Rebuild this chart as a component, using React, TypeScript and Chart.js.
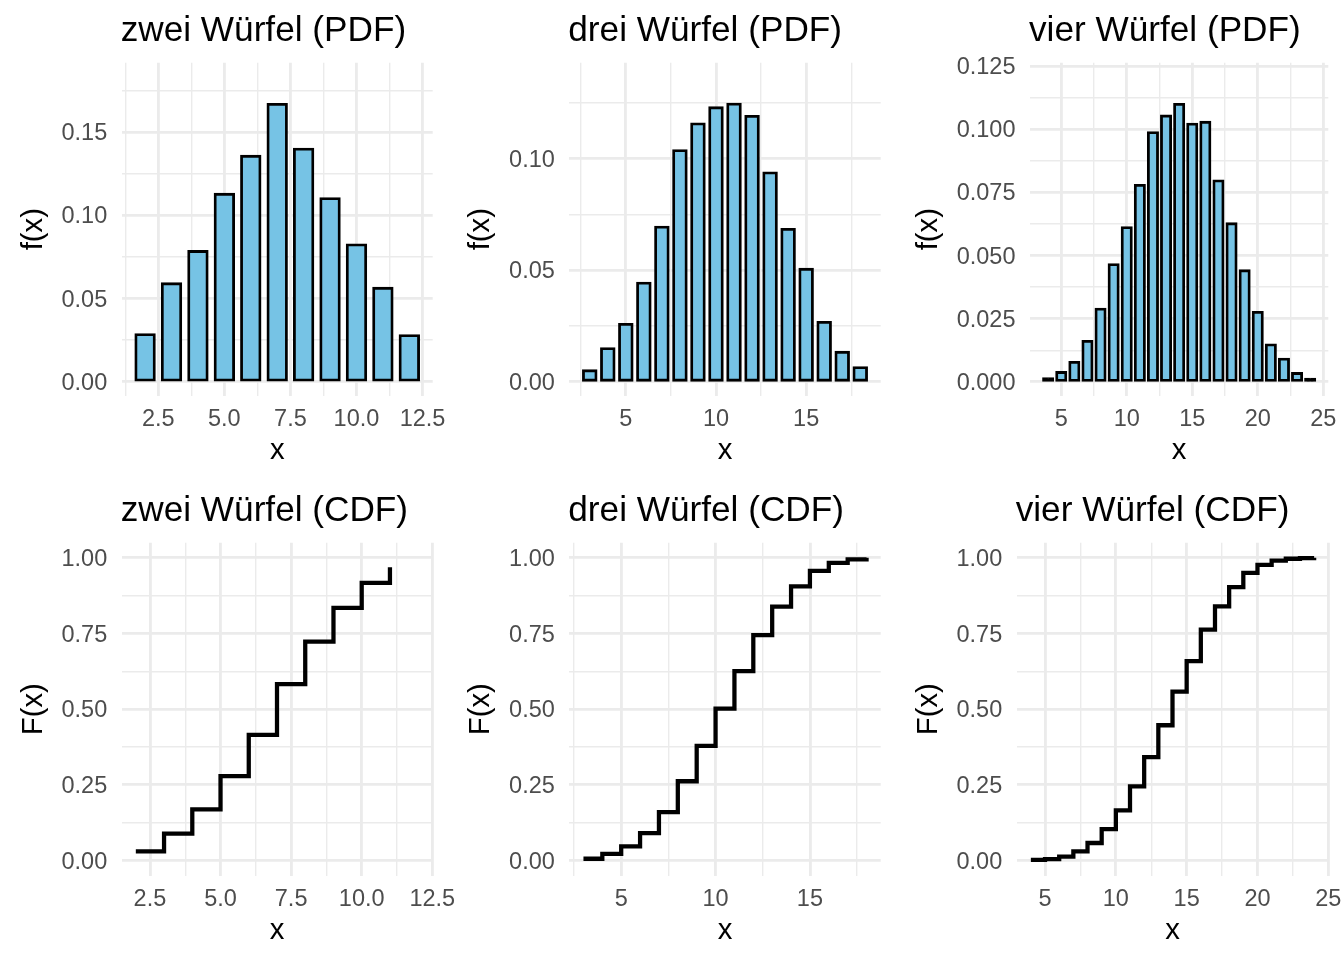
import React, { useEffect, useRef } from "react";
import { Chart, registerables } from "chart.js";

Chart.register(...registerables);

const FONT_FAMILY = '"Liberation Sans", Arial, Helvetica, sans-serif';
Chart.defaults.font.family = FONT_FAMILY;

// ---------------- data ----------------
const twoDiceX = [2, 3, 4, 5, 6, 7, 8, 9, 10, 11, 12];
const twoDicePdf = [0.0283, 0.0589, 0.0783, 0.1128, 0.1357, 0.1669, 0.14, 0.1102, 0.0823, 0.0562, 0.0277];

const threeDiceX = [3, 4, 5, 6, 7, 8, 9, 10, 11, 12, 13, 14, 15, 16, 17, 18];
const threeDicePdf = [0.0049, 0.0148, 0.0257, 0.0442, 0.0693, 0.1036, 0.1156, 0.1228, 0.1244, 0.1189, 0.0936, 0.0683, 0.0504, 0.0266, 0.0132, 0.0063];

const fourDiceX = [4, 5, 6, 7, 8, 9, 10, 11, 12, 13, 14, 15, 16, 17, 18, 19, 20, 21, 22, 23, 24];
const fourDicePdf = [0.0012, 0.0037, 0.0077, 0.016, 0.0288, 0.0464, 0.0611, 0.0778, 0.0987, 0.1053, 0.1099, 0.1021, 0.1028, 0.0796, 0.0626, 0.044, 0.0275, 0.0146, 0.009, 0.0033, 0.001];

const twoDiceCdfX = [2, 3, 4, 5, 6, 7, 8, 9, 10, 11];
const twoDiceCdf = [0.03, 0.089, 0.169, 0.279, 0.415, 0.583, 0.723, 0.835, 0.917, 0.969];

const threeDiceCdfX = [3, 4, 5, 6, 7, 8, 9, 10, 11, 12, 13, 14, 15, 16, 17, 18];
const threeDiceCdf = [0.006, 0.022, 0.047, 0.091, 0.16, 0.262, 0.379, 0.502, 0.626, 0.745, 0.839, 0.906, 0.957, 0.983, 0.995, 1.0];

const fourDiceCdfX = [4, 5, 6, 7, 8, 9, 10, 11, 12, 13, 14, 15, 16, 17, 18, 19, 20, 21, 22, 23, 24];
const fourDiceCdf = [0.002, 0.005, 0.013, 0.03, 0.058, 0.104, 0.166, 0.245, 0.342, 0.447, 0.558, 0.659, 0.763, 0.84, 0.903, 0.95, 0.977, 0.991, 0.997, 0.999, 1.0];

// ---------------- tick labels ----------------
const xTicksTwo = [2.5, 5, 7.5, 10, 12.5];
const xLabelsTwo = ["2.5", "5.0", "7.5", "10.0", "12.5"];
const xMinorTwo = [1.25, 3.75, 6.25, 8.75, 11.25];

const xTicksThree = [5, 10, 15];
const xLabelsThree = ["5", "10", "15"];
const xMinorThree = [2.5, 7.5, 12.5, 17.5];

const xTicksFour = [5, 10, 15, 20, 25];
const xLabelsFour = ["5", "10", "15", "20", "25"];
const xMinorFour = [2.5, 7.5, 12.5, 17.5, 22.5];

const yTicksPdfTwo = [0, 0.05, 0.1, 0.15];
const yLabelsPdfTwo = ["0.00", "0.05", "0.10", "0.15"];
const yMinorPdfTwo = [0.025, 0.075, 0.125, 0.175];

const yTicksPdfThree = [0, 0.05, 0.1];
const yLabelsPdfThree = ["0.00", "0.05", "0.10"];
const yMinorPdfThree = [0.025, 0.075, 0.125];

const yTicksPdfFour = [0, 0.025, 0.05, 0.075, 0.1, 0.125];
const yLabelsPdfFour = ["0.000", "0.025", "0.050", "0.075", "0.100", "0.125"];
const yMinorPdfFour = [0.0125, 0.0375, 0.0625, 0.0875, 0.1125];

const yTicksCdf = [0, 0.25, 0.5, 0.75, 1];
const yLabelsCdf = ["0.00", "0.25", "0.50", "0.75", "1.00"];
const yMinorCdf = [0.125, 0.375, 0.625, 0.875];

// ---------------- styling / layout ----------------
const CANVAS_W = 1400;
const CANVAS_H = 960;
const X_AXIS_H = 40;
const BAR_FILL = "#76C3E5";
const GRID_COLOR = "#EBEBEB";
const TICK_COLOR = "#4D4D4D";
const TICK_SIZE = 23.5;
const AXIS_TITLE_SIZE = 29.3;
const TITLE_SIZE = 35.2;
const GRID_MAJOR_W = 2.84;
const GRID_MINOR_W = 1.42;

type Area = { left: number; right: number; top: number; bottom: number };
type Panel = {
  kind: "bar" | "step";
  title: string;
  yLabel: string;
  xs: number[];
  ys: number[];
  xMin: number;
  xMax: number;
  yMin: number;
  yMax: number;
  xMajor: number[];
  xMajorLabels: string[];
  xMinor: number[];
  yMajor: number[];
  yMajorLabels: string[];
  yMinor: number[];
  area: Area;
  yTitleX: number;
};

const panels: Panel[] = [
  {
    kind: "bar", title: "zwei Würfel (PDF)", yLabel: "f(x)", xs: twoDiceX, ys: twoDicePdf,
    xMin: 1.115, xMax: 12.885, yMin: -0.0085, yMax: 0.192,
    xMajor: xTicksTwo, xMajorLabels: xLabelsTwo, xMinor: xMinorTwo,
    yMajor: yTicksPdfTwo, yMajorLabels: yLabelsPdfTwo, yMinor: yMinorPdfTwo,
    area: { left: 121.7, right: 432.7, top: 62.7, bottom: 395.7 }, yTitleX: 42,
  },
  {
    kind: "bar", title: "drei Würfel (PDF)", yLabel: "f(x)", xs: threeDiceX, ys: threeDicePdf,
    xMin: 1.865, xMax: 19.135, yMin: -0.0063, yMax: 0.143,
    xMajor: xTicksThree, xMajorLabels: xLabelsThree, xMinor: xMinorThree,
    yMajor: yTicksPdfThree, yMajorLabels: yLabelsPdfThree, yMinor: yMinorPdfThree,
    area: { left: 569.3, right: 880.7, top: 62.7, bottom: 395.7 }, yTitleX: 489,
  },
  {
    kind: "bar", title: "vier Würfel (PDF)", yLabel: "f(x)", xs: fourDiceX, ys: fourDicePdf,
    xMin: 2.615, xMax: 25.385, yMin: -0.0055, yMax: 0.1264,
    xMajor: xTicksFour, xMajorLabels: xLabelsFour, xMinor: xMinorFour,
    yMajor: yTicksPdfFour, yMajorLabels: yLabelsPdfFour, yMinor: yMinorPdfFour,
    area: { left: 1030, right: 1328.3, top: 62.7, bottom: 395.7 }, yTitleX: 937,
  },
  {
    kind: "step", title: "zwei Würfel (CDF)", yLabel: "F(x)", xs: twoDiceCdfX, ys: twoDiceCdf,
    xMin: 1.5, xMax: 12.5, yMin: -0.05, yMax: 1.05,
    xMajor: xTicksTwo, xMajorLabels: xLabelsTwo, xMinor: xMinorTwo,
    yMajor: yTicksCdf, yMajorLabels: yLabelsCdf, yMinor: yMinorCdf,
    area: { left: 121.7, right: 432.3, top: 542.7, bottom: 875.7 }, yTitleX: 42,
  },
  {
    kind: "step", title: "drei Würfel (CDF)", yLabel: "F(x)", xs: threeDiceCdfX, ys: threeDiceCdf,
    xMin: 2.25, xMax: 18.75, yMin: -0.05, yMax: 1.05,
    xMajor: xTicksThree, xMajorLabels: xLabelsThree, xMinor: xMinorThree,
    yMajor: yTicksCdf, yMajorLabels: yLabelsCdf, yMinor: yMinorCdf,
    area: { left: 569.3, right: 880.7, top: 542.7, bottom: 875.7 }, yTitleX: 489,
  },
  {
    kind: "step", title: "vier Würfel (CDF)", yLabel: "F(x)", xs: fourDiceCdfX, ys: fourDiceCdf,
    xMin: 3, xMax: 25, yMin: -0.05, yMax: 1.05,
    xMajor: xTicksFour, xMajorLabels: xLabelsFour, xMinor: xMinorFour,
    yMajor: yTicksCdf, yMajorLabels: yLabelsCdf, yMinor: yMinorCdf,
    area: { left: 1016.7, right: 1328.3, top: 542.7, bottom: 875.7 }, yTitleX: 937,
  },
];

const EPS = 1e-9;
const indexIn = (list: number[], v: number) => list.findIndex((m) => Math.abs(m - v) < EPS);

const panelTextPlugin = {
  id: "panelText",
  afterDraw(chart: any, _args: any, opts: any) {
    const { ctx, chartArea: a } = chart;
    ctx.save();
    ctx.fillStyle = "#000000";
    ctx.textBaseline = "alphabetic";
    ctx.font = `${TITLE_SIZE}px ${FONT_FAMILY}`;
    ctx.textAlign = "left";
    ctx.fillText(opts.title, a.left - 1, a.top - 22);
    ctx.font = `${AXIS_TITLE_SIZE}px ${FONT_FAMILY}`;
    ctx.textAlign = "center";
    ctx.fillText(opts.xLabel, (a.left + a.right) / 2, a.bottom + 63.5);
    ctx.translate(opts.yTitleX, (a.top + a.bottom) / 2);
    ctx.rotate(-Math.PI / 2);
    ctx.fillText(opts.yLabel, 0, 0);
    ctx.restore();
  },
};

function axisOptions(
  min: number,
  max: number,
  major: number[],
  labels: string[],
  minor: number[],
  isX: boolean,
  fixedSize: number
) {
  const all = [...major, ...minor]
    .filter((v) => v >= min - EPS && v <= max + EPS)
    .sort((p, q) => p - q);
  return {
    type: "linear" as const,
    min,
    max,
    offset: false,
    grid: {
      color: GRID_COLOR,
      lineWidth: (ctx: any) =>
        ctx.tick && indexIn(major, ctx.tick.value) >= 0 ? GRID_MAJOR_W : GRID_MINOR_W,
      drawTicks: false,
      offset: false,
    },
    border: { display: false },
    afterBuildTicks: (scale: any) => {
      scale.ticks = all.map((v) => ({ value: v }));
    },
    afterFit: (scale: any) => {
      if (isX) scale.height = fixedSize;
      else scale.width = fixedSize;
    },
    ticks: {
      autoSkip: false,
      maxRotation: 0,
      minRotation: 0,
      padding: isX ? 10 : 14.5,
      labelOffset: isX ? 0 : 1.5,
      color: TICK_COLOR,
      font: { family: FONT_FAMILY, size: TICK_SIZE },
      callback: (value: number) => {
        const i = indexIn(major, value);
        return i >= 0 ? labels[i] : "";
      },
    },
  };
}

function buildChart(canvas: HTMLCanvasElement, p: Panel) {
  const points = p.xs.map((x, i) => ({ x, y: p.ys[i] }));
  const dataset: any =
    p.kind === "bar"
      ? {
          type: "bar",
          data: points,
          backgroundColor: (ctx: any) => (ctx.raw && ctx.raw.y < 0.002 ? "#000000" : BAR_FILL),
          borderColor: "#000000",
          borderWidth: 2.84,
          borderSkipped: false,
          inflateAmount: 1.42,
          barPercentage: 0.7,
          categoryPercentage: 1,
        }
      : {
          type: "line",
          data: points,
          borderColor: "#000000",
          borderWidth: 4.27,
          pointRadius: 0,
          stepped: "before",
          fill: false,
          tension: 0,
          borderCapStyle: "butt",
          borderJoinStyle: "miter",
        };

  return new Chart(canvas, {
    type: p.kind === "bar" ? "bar" : "line",
    data: { datasets: [dataset] },
    options: {
      animation: false,
      responsive: false,
      maintainAspectRatio: false,
      events: [],
      layout: {
        padding: {
          left: 0,
          top: p.area.top,
          right: CANVAS_W - p.area.right,
          bottom: CANVAS_H - p.area.bottom - X_AXIS_H,
        },
      },
      plugins: {
        legend: { display: false },
        tooltip: { enabled: false },
        title: { display: false },
        panelText: { title: p.title, xLabel: "x", yLabel: p.yLabel, yTitleX: p.yTitleX },
      } as any,
      scales: {
        x: axisOptions(p.xMin, p.xMax, p.xMajor, p.xMajorLabels, p.xMinor, true, X_AXIS_H) as any,
        y: axisOptions(p.yMin, p.yMax, p.yMajor, p.yMajorLabels, p.yMinor, false, p.area.left) as any,
      },
    } as any,
    plugins: [panelTextPlugin],
  });
}

function PanelCanvas({ panel }: { panel: Panel }) {
  const ref = useRef<HTMLCanvasElement | null>(null);
  useEffect(() => {
    if (!ref.current) return;
    const chart = buildChart(ref.current, panel);
    return () => chart.destroy();
  }, [panel]);
  return (
    <canvas
      ref={ref}
      width={CANVAS_W}
      height={CANVAS_H}
      style={{
        position: "absolute",
        left: 0,
        top: 0,
        width: CANVAS_W + "px",
        height: CANVAS_H + "px",
        pointerEvents: "none",
      }}
    />
  );
}

export default function App() {
  return (
    <div
      style={{
        position: "fixed",
        left: 0,
        top: 0,
        width: "1344px",
        height: "960px",
        overflow: "hidden",
        background: "#FFFFFF",
      }}
    >
      {panels.map((p, i) => (
        <PanelCanvas key={i} panel={p} />
      ))}
    </div>
  );
}
